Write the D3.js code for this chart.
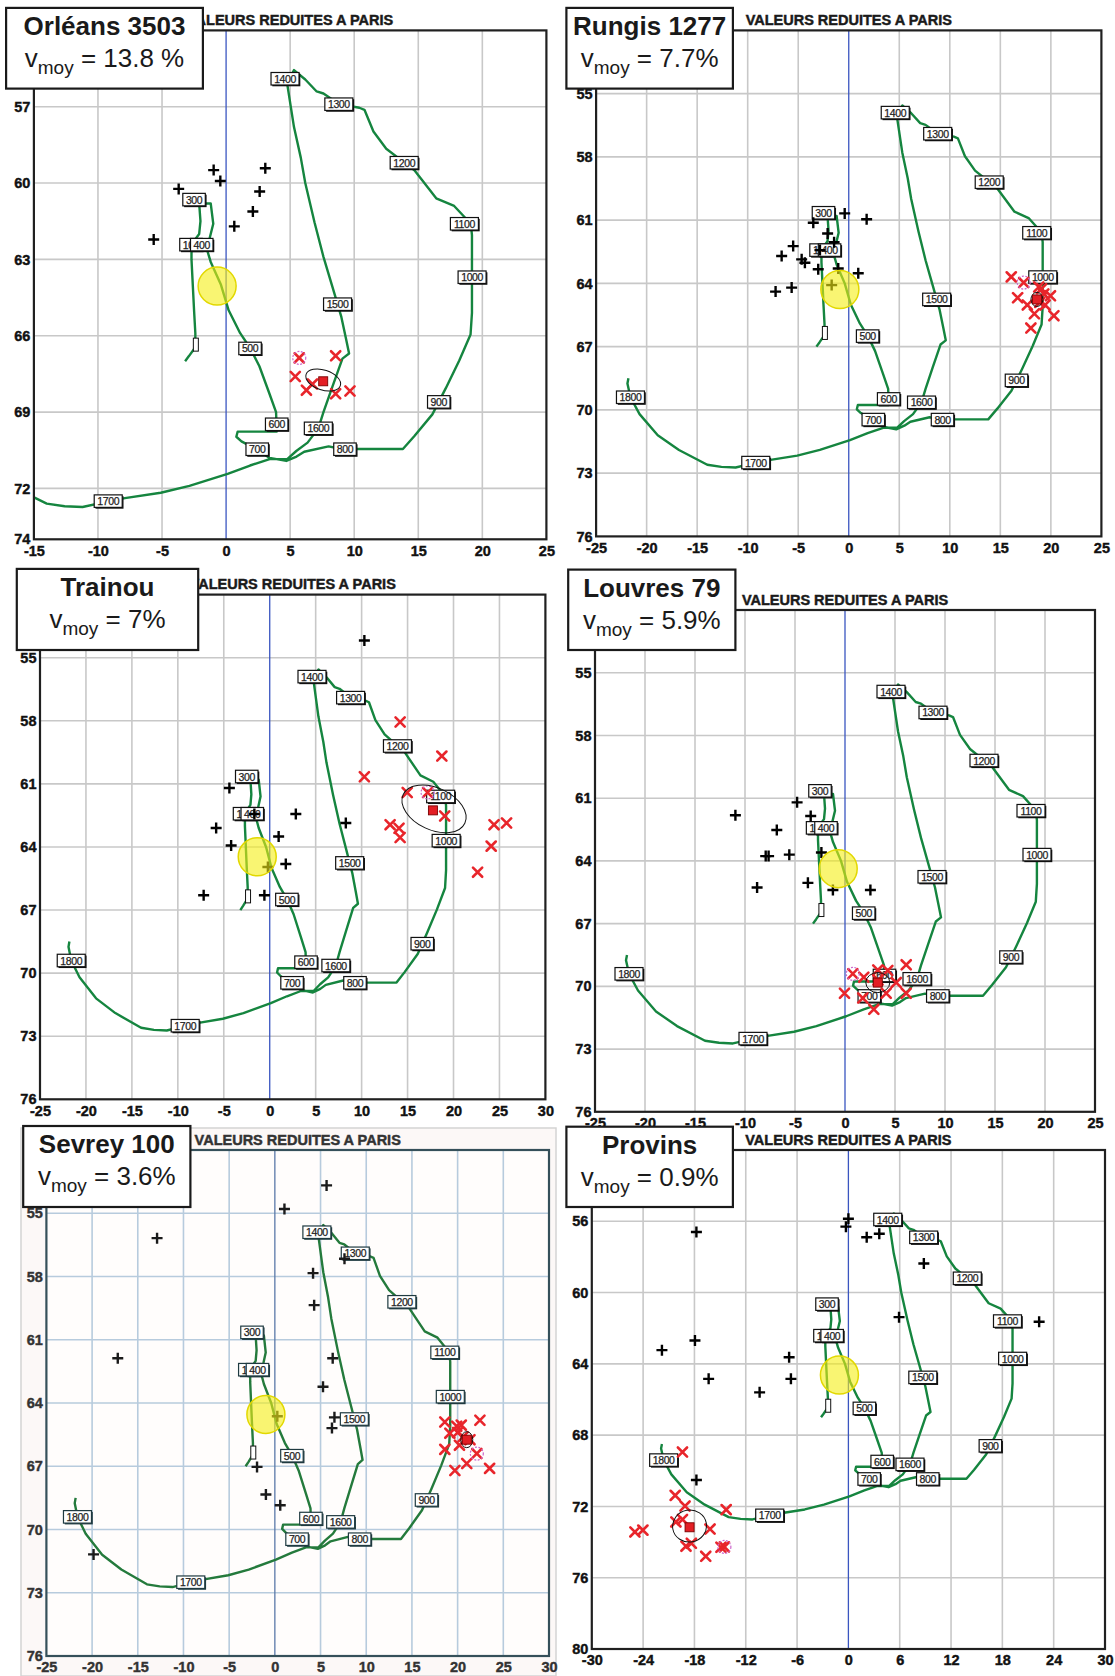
<!DOCTYPE html>
<html><head><meta charset="utf-8">
<script src="https://cdn.jsdelivr.net/npm/d3@7"></script>
<style>body{margin:0;background:#fff}svg{display:block}</style>
</head><body>
<svg id="c" width="1115" height="1676"></svg>
<script>
// ---------------- DATA ----------------
const panelNames = ["Orléans 3503", "Rungis 1277", "Trainou", "Louvres 79", "Sevrey 100", "Provins"];
const vmoyValues = ["13.8 %", "7.7%", "7%", "5.9%", "3.6%", "0.9%"];
const chartTitle = "VALEURS REDUITES A PARIS";

const xDomains = [[-15,25],[-25,25],[-25,30],[-25,25],[-25,30],[-30,30]];
const yDomains = [[54,74],[52,76],[52,76],[52,76],[52,76],[52,80]];
const xTicks5 = [-25,-20,-15,-10,-5,0,5,10,15,20,25,30];
const xTicks6 = [-30,-24,-18,-12,-6,0,6,12,18,24,30];
const yTicks3 = [55,58,61,64,67,70,73,76];
const yTicksOrleans = [57,60,63,66,69,72,74];
const yTicksProvins = [56,60,64,68,72,76,80];

// reference curve (declination, inclination), reduced to Paris
const curvePoints = [
 [-3.2,67.0],[-2.9,66.8],[-2.4,66.45],[-2.4,65.9],[-2.5,65.0],[-2.6,64.0],[-2.7,63.0],[-2.7,62.4],[-2.1,62.0],[-2.0,61.5],[-2.1,60.8],
 [-1.2,60.8],[-1.0,61.6],[-1.5,62.6],[-1.2,63.1],[-0.4,64.0],[0.2,65.0],[1.1,65.9],[1.9,66.5],[2.6,67.2],[3.4,68.3],[3.9,69.0],[3.95,69.77],
 [0.9,69.77],[0.8,69.97],[1.2,70.15],[2.5,70.5],[3.4,70.8],[4.7,70.92],[5.5,70.75],[6.1,70.56],[8.0,70.35],[9.0,70.45],[13.8,70.45],
 [14.7,69.94],[16.1,69.09],[16.6,68.6],[17.14,68.07],[18.2,66.97],[19.08,65.95],[19.19,65.1],[19.19,62.05],[19.1,61.6],[17.8,60.9],
 [16.4,60.6],[14.7,59.5],[12.5,58.65],[11.5,57.97],[10.8,57.12],[10.4,57.04],[8.83,56.9],[7.6,56.48],[7.07,56.4],[6.18,55.93],[5.3,55.56],[4.77,56.1],
 [5.3,57.8],[5.83,59.0],[6.18,60.0],[6.9,61.54],[7.6,62.9],[8.3,64.08],[8.7,64.76],[9.0,65.27],[9.36,66.12],[9.6,66.7],[9.08,66.9],
 [8.3,68.0],[7.6,69.0],[7.2,69.64],[6.36,70.2],[5.48,70.53],[4.77,70.85],
 [3.4,70.85],[1.87,71.1],[0.12,71.43],[-2.86,71.9],[-5.1,72.17],[-7.9,72.38],[-9.1,72.5],[-11.2,72.73],[-12.6,72.7],[-14.0,72.6],
 [-16.8,71.9],[-18.9,71.2],[-20.7,70.2],[-21.6,69.4],[-21.9,68.75],[-21.8,68.5]
];
const curveStart = [-2.36, 66.35];
const centuryLabels = [
 ["300",-2.5,60.65],["100",-2.74,62.42],["400",-1.9,62.42],["500",1.87,66.5],["600",3.95,69.48],["700",2.43,70.46],
 ["800",9.28,70.46],["900",16.6,68.6],["1000",19.2,63.7],["1100",18.6,61.6],["1200",13.9,59.2],["1300",8.8,56.9],
 ["1400",4.6,55.9],["1500",8.7,64.76],["1600",7.2,69.64],["1700",-9.2,72.5],["1800",-21.6,69.4]
];

// per-site points
const crossesOrleans = [[-0.97,59.49],[-0.45,59.92],[3.06,59.42],[-3.7,60.23],[2.62,60.33],[2.09,61.12],[0.64,61.7],[-5.65,62.22]];
const redsOrleans = [[5.71,66.87],[8.55,66.79],[5.4,67.6],[6.74,67.9],[6.27,68.14],[8.55,68.28],[9.67,68.17]];
const crossesRungis = [[-0.4,60.68],[1.77,60.96],[-3.51,61.12],[-2.09,61.63],[-1.45,62.05],[-5.5,62.23],[-2.85,62.42],[-6.64,62.7],[-4.66,62.86],[-4.34,63.02],[-3.02,63.33],[-1.04,63.29],[0.94,63.52],[-1.69,64.08],[-5.65,64.2],[-7.24,64.39]];
const redsRungis = [[16.08,63.69],[17.31,63.96],[18.8,64.17],[19.08,64.25],[19.96,64.59],[16.71,64.68],[17.67,65.02],[19.43,65.02],[18.37,65.44],[20.3,65.53],[18.02,66.12],[18.9,64.9],[19.3,64.5]];
const crossesTrainou = [[10.3,54.18],[-4.39,61.2],[-1.67,62.43],[2.84,62.43],[-5.83,63.1],[8.28,62.86],[0.97,63.5],[-4.2,63.93],[1.75,64.81],[-0.2,64.95],[-7.19,66.3],[-0.58,66.3]];
const redsTrainou = [[14.19,58.06],[18.73,59.68],[10.3,60.66],[14.96,61.41],[17.18,61.41],[19.04,62.53],[13.1,62.94],[14.07,63.11],[14.19,63.55],[24.41,62.94],[25.77,62.86],[24.1,63.96],[22.62,65.2]];
const crossesLouvres = [[-4.79,61.2],[-10.96,61.82],[-3.43,61.85],[-6.82,62.52],[-2.36,63.6],[-7.93,63.77],[-7.64,63.77],[-5.57,63.7],[-8.79,65.27],[-3.71,65.05],[-1.21,65.39],[2.54,65.39]];
const redsLouvres = [[0.78,69.4],[1.88,69.56],[3.28,69.22],[4.28,69.24],[6.12,68.97],[5.12,69.82],[-0.05,70.33],[1.78,70.56],[4.12,70.33],[6.12,70.33],[2.88,71.1],[3.3,69.7]];
const crossesSevrey = [[5.66,53.68],[1.05,54.8],[-12.89,56.18],[7.62,57.16],[4.18,57.84],[4.3,59.36],[-17.19,61.88],[6.33,61.88],[5.27,63.23],[6.52,64.68],[6.25,65.19],[0.27,64.63],[-1.95,67.03],[-0.98,68.34],[0.59,68.85],[-19.84,71.18]];
const redsSevrey = [[18.6,64.9],[20.4,65.05],[22.44,64.82],[19.15,65.43],[21.35,65.74],[18.6,66.2],[22.1,66.4],[21.0,66.87],[19.7,67.2],[23.5,67.1],[19.9,65.1],[20.2,66.0],[20.0,65.4],[20.6,65.6]];
const crossesProvins = [[0,55.86],[-0.29,56.3],[2.14,56.9],[3.61,56.7],[-17.77,56.6],[8.82,58.37],[5.92,61.38],[22.3,61.64],[-17.94,62.69],[-21.8,63.23],[-6.93,63.63],[-6.72,64.84],[-16.34,64.84],[-10.38,65.6],[-17.77,70.52]];
const redsProvins = [[-19.4,68.95],[-20.25,71.38],[-19.1,71.98],[-14.29,72.18],[-20.17,72.87],[-19.4,72.73],[-16.18,73.27],[-24.96,73.43],[-24.03,73.33],[-18.99,74.23],[-18.36,74.07],[-16.68,74.8],[-14.9,74.29],[-14.5,74.27]];

const pinkPoints = [[5.71,66.87],[17.31,63.96],[17.18,61.41],[0.78,69.4],[22.1,66.4],[-14.5,74.27]];
const meanPoints = [[7.58,67.79],[18.62,64.76],[17.76,62.26],[3.28,69.82],[21.0,65.74],[-18.57,73.17]];
const ellipseCenters = [[7.58,67.74],[18.62,64.76],[17.88,62.19],[3.28,69.82],[21.0,65.74],[-18.57,73.1]];
const parisPoints = [[-0.7,64.05],[-0.88,64.29],[-1.36,64.47],[-0.68,64.37],[-0.98,64.54],[-1.05,64.63]];

// ---------------- LAYOUT / STYLE ----------------
const crossSets = [crossesOrleans, crossesRungis, crossesTrainou, crossesLouvres, crossesSevrey, crossesProvins];
const redSets = [redsOrleans, redsRungis, redsTrainou, redsLouvres, redsSevrey, redsProvins];
const xTickSets = [xTicks5.filter(d=>d>=-15&&d<=25), xTicks5.filter(d=>d<=25), xTicks5, xTicks5.filter(d=>d<=25), xTicks5, xTicks6];
const yTickSets = [yTicksOrleans, yTicks3, yTicks3, yTicks3, yTicks3, yTicksProvins];
const layout = [
 {l:33.9, r:546.4, t:30.4, b:539.3, box:[6.1,7.9,202.9,88.6]},
 {l:596.1, r:1101.4, t:30.4, b:536.4, box:[566.4,7.9,732.9,88.6]},
 {l:40, r:545.4, t:594.6, b:1099.3, box:[16.8,568.9,198.2,650]},
 {l:595, r:1095, t:610, b:1111.8, box:[568.2,569.6,735.4,650]},
 {l:46.4, r:549, t:1150, b:1656, box:[23.2,1126,190.4,1207]},
 {l:591.8, r:1105, t:1150, b:1649, box:[566.4,1126.7,732.9,1207]}
];
const ellipseStyle = [{rx:18,ry:10,a:18},{rx:6,ry:7,a:0},{rx:34,ry:21,a:25},{rx:12,ry:10,a:0},{rx:6,ry:8,a:0},{rx:17,ry:16,a:-10}];
const FONT = "'Liberation Sans', Arial, sans-serif";

const svg = d3.select("#c");
const defs = svg.append("defs");

function plusPath(s){ return `M${-s},0H${s}M0,${-s}V${s}`; }
function xPath(s){ return `M${-s},${-s}L${s},${s}M${-s},${s}L${s},${-s}`; }

// Sevrey: scanned-looking panel background
svg.append("rect").attr("x",21).attr("y",1128).attr("width",535).attr("height",548)
  .attr("fill","#fcf8f7").attr("stroke","#d4d4d4").attr("stroke-width",1.5);

function drawPanel(i){
  const L = layout[i];
  const sev = (i===4);
  const gridCol = sev ? "#b7cbdd" : "#c8c8c8";
  const frameCol = sev ? "#35505a" : "#202020";
  const x = d3.scaleLinear().domain(xDomains[i]).range([L.l, L.r]);
  const y = d3.scaleLinear().domain(yDomains[i]).range([L.t, L.b]);
  const g = svg.append("g");
  const cid = "clip"+i;
  defs.append("clipPath").attr("id",cid).append("rect")
    .attr("x",L.l).attr("y",L.t).attr("width",L.r-L.l).attr("height",L.b-L.t);

  g.append("rect").attr("x",L.l).attr("y",L.t).attr("width",L.r-L.l).attr("height",L.b-L.t)
    .attr("fill", sev ? "#fffdfc" : "#fff");

  // grid
  const xd = xDomains[i], yd = yDomains[i];
  g.append("g").selectAll("line").data(xTickSets[i].filter(d=>d>xd[0]&&d<xd[1]&&d!==0)).join("line")
    .attr("x1",d=>x(d)).attr("x2",d=>x(d)).attr("y1",L.t).attr("y2",L.b)
    .attr("stroke",gridCol).attr("stroke-width",1.6);
  g.append("g").selectAll("line").data(yTickSets[i].filter(d=>d>yd[0]&&d<yd[1])).join("line")
    .attr("y1",d=>y(d)).attr("y2",d=>y(d)).attr("x1",L.l).attr("x2",L.r)
    .attr("stroke",gridCol).attr("stroke-width",1.6);
  // zero meridian
  g.append("line").attr("x1",x(0)).attr("x2",x(0)).attr("y1",L.t).attr("y2",L.b)
    .attr("stroke", sev ? "#5a78a8" : "#3a55c0").attr("stroke-width",1.3);

  const p = g.append("g").attr("clip-path",`url(#${cid})`);
  const line = d3.line().x(d=>x(d[0])).y(d=>y(d[1]));
  p.append("path").attr("d",line(curvePoints)).attr("fill","none")
    .attr("stroke", sev ? "#247a3c" : "#15853f").attr("stroke-width",2.4).attr("stroke-linejoin","round");

  // century labels (only those inside this panel's window)
  const visLabels = centuryLabels.filter(d=>d[1]>xd[0]+1&&d[1]<xd[1]-1&&d[2]>yd[0]&&d[2]<yd[1]);
  const lab = p.append("g").selectAll("g").data(visLabels).join("g")
    .attr("transform",d=>`translate(${x(d[1])},${y(d[2])})`);
  lab.each(function(d){
    const w = d[0].length===4 ? 28 : 22.5, h = 12.5;
    const s = d3.select(this);
    s.append("rect").attr("x",-w/2+1.3).attr("y",-h/2+1.3).attr("width",w).attr("height",h).attr("fill",sev?"#1f3a40":"#111");
    s.append("rect").attr("x",-w/2).attr("y",-h/2).attr("width",w).attr("height",h)
      .attr("fill","#fff").attr("stroke",sev?"#1f3a40":"#111").attr("stroke-width",1.2);
    s.append("text").attr("text-anchor","middle").attr("y",4)
      .attr("font-family",FONT).attr("font-size",10.5).attr("letter-spacing",-0.4).attr("fill","#222")
      .attr("stroke","#222").attr("stroke-width",0.25).text(d[0]);
  });
  // start marker
  p.append("rect").attr("x",x(curveStart[0])-2.5).attr("y",y(curveStart[1])-6.5).attr("width",5).attr("height",13)
    .attr("fill","#fff").attr("stroke","#111").attr("stroke-width",1);

  // black crosses
  p.append("g").selectAll("path").data(crossSets[i]).join("path")
    .attr("transform",d=>`translate(${x(d[0])},${y(d[1])})`).attr("d",plusPath(5.5))
    .attr("stroke", sev ? "#1a1a1a" : "#000").attr("stroke-width",2.4).attr("fill","none");
  // red crosses
  p.append("g").selectAll("path").data(redSets[i]).join("path")
    .attr("transform",d=>`translate(${x(d[0])},${y(d[1])})`).attr("d",xPath(4.6))
    .attr("stroke","#e8252b").attr("stroke-width",2.6).attr("fill","none").attr("stroke-linecap","round");
  // pink dashed circle
  const pk = pinkPoints[i];
  p.append("circle").attr("cx",x(pk[0])).attr("cy",y(pk[1])).attr("r",6.5)
    .attr("fill","none").attr("stroke","#cc66cc").attr("stroke-width",1.2).attr("stroke-dasharray","2,1.5");
  // confidence ellipse
  const ec = ellipseCenters[i], es = ellipseStyle[i];
  p.append("ellipse").attr("transform",`translate(${x(ec[0])},${y(ec[1])}) rotate(${es.a})`)
    .attr("rx",es.rx).attr("ry",es.ry).attr("fill","none").attr("stroke","#111").attr("stroke-width",1);
  // mean direction
  const mp = meanPoints[i];
  p.append("rect").attr("x",x(mp[0])-4.5).attr("y",y(mp[1])-4.5).attr("width",9).attr("height",9)
    .attr("fill","#e31e24").attr("stroke","#7a0000").attr("stroke-width",0.9);
  // Paris point (yellow)
  const pp = parisPoints[i];
  p.append("circle").attr("cx",x(pp[0])).attr("cy",y(pp[1])).attr("r",19)
    .attr("fill","rgba(245,238,20,0.6)").attr("stroke","#e2d800").attr("stroke-width",1.5);

  // frame
  g.append("rect").attr("x",L.l).attr("y",L.t).attr("width",L.r-L.l).attr("height",L.b-L.t)
    .attr("fill","none").attr("stroke",frameCol).attr("stroke-width",2.2);

  // axes tick labels
  const fmt = d=>String(d);
  const ax = g.append("g").attr("transform",`translate(0,${L.b})`)
    .call(d3.axisBottom(x).tickValues(xTickSets[i]).tickSize(0).tickPadding(6).tickFormat(fmt));
  const ay = g.append("g").attr("transform",`translate(${L.l},0)`)
    .call(d3.axisLeft(y).tickValues(yTickSets[i]).tickSize(0).tickPadding(3.5).tickFormat(fmt));
  [ax,ay].forEach(a=>{
    a.select(".domain").remove();
    const c = sev ? "#333" : "#111";
    a.selectAll("text").attr("font-family",FONT).attr("font-weight","bold").attr("font-size",14.5)
      .attr("fill", c).attr("stroke", c).attr("stroke-width",0.4);
  });

  // chart title
  const tc = sev ? "#333" : "#1a1a1a";
  g.append("text").attr("x",(L.l+L.r)/2).attr("y",L.t-5.5).attr("text-anchor","middle")
    .attr("font-family",FONT).attr("font-weight","bold").attr("font-size",14.5)
    .attr("fill", tc).attr("stroke", tc).attr("stroke-width",0.45).text(chartTitle);

  // site box
  const B = L.box, cx = (B[0]+B[2])/2;
  g.append("rect").attr("x",B[0]).attr("y",B[1]).attr("width",B[2]-B[0]).attr("height",B[3]-B[1])
    .attr("fill","#fff").attr("stroke","#1a1a1a").attr("stroke-width",2.2);
  g.append("text").attr("x",cx).attr("y",B[1]+27).attr("text-anchor","middle")
    .attr("font-family",FONT).attr("font-weight","bold").attr("font-size",26).attr("fill","#1a1a1a")
    .text(panelNames[i]);
  const t2 = g.append("text").attr("x",cx).attr("y",B[1]+59).attr("text-anchor","middle")
    .attr("font-family",FONT).attr("font-size",26).attr("fill","#1a1a1a");
  t2.append("tspan").text("v");
  t2.append("tspan").attr("font-size",19).attr("dy",7).text("moy");
  t2.append("tspan").attr("dy",-7).text(" = " + vmoyValues[i]);
}

for (let i=0;i<6;i++) drawPanel(i);
</script>
</body></html>
